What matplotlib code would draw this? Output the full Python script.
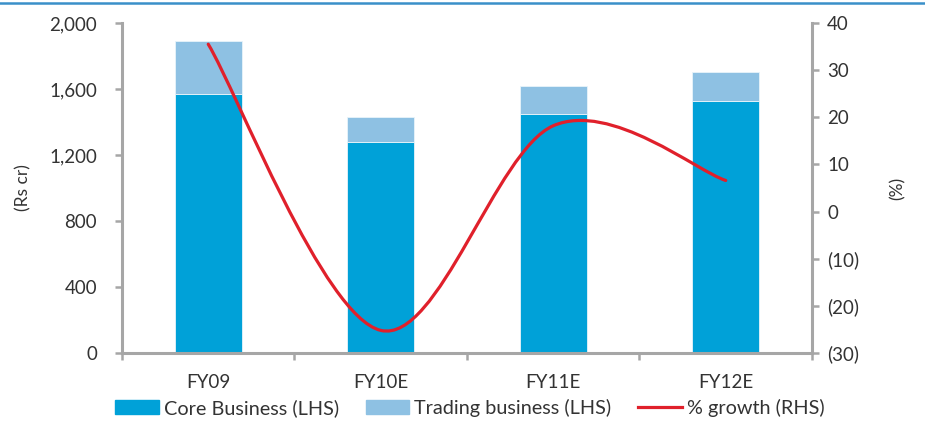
import numpy as np
import matplotlib
matplotlib.use('Agg')
import matplotlib.pyplot as plt
from matplotlib.path import Path
from matplotlib.patches import PathPatch, Patch
from matplotlib.lines import Line2D
from matplotlib.ticker import FuncFormatter

# ================================
# DATA
# ================================

years = ["FY09", "FY10E", "FY11E", "FY12E"]
core = [1570, 1280, 1450, 1525]
trading = [320, 150, 168, 178]
growth = [35.5, -25.2, 18.2, 6.6]

CORE_COL = "#00A1D8"
TRADE_COL = "#8EC1E3"
RED = "#E0202B"
SPINE = "#A6A6A6"
TXT = "#333333"

plt.rcParams['font.family'] = ['Lato', 'DejaVu Sans']

fig = plt.figure(figsize=(9.25, 4.21), dpi=100)
ax = fig.add_axes([0.1319, 0.1615, 0.8778 - 0.1319, 0.9454 - 0.1615])
ax2 = ax.twinx()

x = np.arange(len(years))
w = 0.39

ax.bar(x, core, width=w, color=CORE_COL, edgecolor="#e8f4fa", linewidth=0.6, zorder=2)
ax.bar(x, trading, width=w, bottom=core, color=TRADE_COL, edgecolor="#e8f4fa",
       linewidth=0.6, zorder=2)

# smoothed growth line (bezier through the points, excel-style)
pts = np.column_stack([x, growth]).astype(float)
n = len(pts)
verts = [pts[0]]
codes = [Path.MOVETO]
for i in range(n - 1):
    p0 = pts[max(i - 1, 0)]
    p1 = pts[i]
    p2 = pts[i + 1]
    p3 = pts[min(i + 2, n - 1)]
    c1 = p1 + (p2 - p0) / 6.0
    c2 = p2 - (p3 - p1) / 6.0
    verts += [c1, c2, p2]
    codes += [Path.CURVE4] * 3
path = Path(verts, codes)
ax2.add_patch(PathPatch(path, fill=False, edgecolor=RED, linewidth=2.3,
                        capstyle='round', zorder=3))

# ================================
# AXES
# ================================

ax.set_xlim(-0.5, 3.5)
ax.set_ylim(0, 2000)
ax2.set_ylim(-30, 40)

ax.set_yticks(np.arange(0, 2001, 400))
ax.yaxis.set_major_formatter(FuncFormatter(lambda v, p: f"{int(v):,}"))
ax2.set_yticks(np.arange(-30, 41, 10))
ax2.yaxis.set_major_formatter(
    FuncFormatter(lambda v, p: f"({abs(int(v))})" if v < 0 else f"{int(v)}"))

ax.set_xticks(np.arange(-0.5, 3.6, 1.0))
ax.set_xticklabels([])
ax.set_xticks(x, minor=True)
ax.set_xticklabels(years, minor=True)
ax.tick_params(axis='x', which='major', direction='out', length=5, width=1.8, color=SPINE)
ax.tick_params(axis='x', which='minor', length=0, pad=15, labelsize=13.5, labelcolor=TXT)
ax.tick_params(axis='y', direction='out', length=5, width=1.8, color=SPINE,
               labelsize=13.5, labelcolor=TXT, pad=13)
ax2.tick_params(axis='y', direction='out', length=5, width=1.8, color=SPINE,
                labelsize=13.5, labelcolor=TXT, pad=6)

for a in (ax, ax2):
    for s in a.spines.values():
        s.set_visible(False)
ax.spines['left'].set_visible(True)
ax.spines['bottom'].set_visible(True)
ax2.spines['right'].set_visible(True)
for s in (ax.spines['left'], ax.spines['bottom'], ax2.spines['right']):
    s.set_color(SPINE)
    s.set_linewidth(2.2)

ax.set_ylabel("(Rs cr)", fontsize=12.5, color=TXT, labelpad=13)
ax2.set_ylabel("(%)", fontsize=12.5, color=TXT, rotation=90, labelpad=22)

# top rule
fig.add_artist(Line2D([0, 1], [1 - 3 / 421, 1 - 3 / 421], color="#3A90C9", linewidth=1.8))

# ================================
# LEGEND
# ================================

handles = [Patch(color=CORE_COL), Patch(color=TRADE_COL),
           Line2D([], [], color=RED, linewidth=2.3)]
labels = ["Core Business (LHS)", "Trading business (LHS)", "% growth (RHS)"]
fig.legend(handles, labels, loc='center', bbox_to_anchor=(0.508, 1 - 408 / 421),
           ncol=3, frameon=False, fontsize=14.3, handlelength=2.2, handleheight=0.75,
           handletextpad=0.25, columnspacing=1.35, labelcolor=TXT)

fig.savefig("out.png", dpi=100)
